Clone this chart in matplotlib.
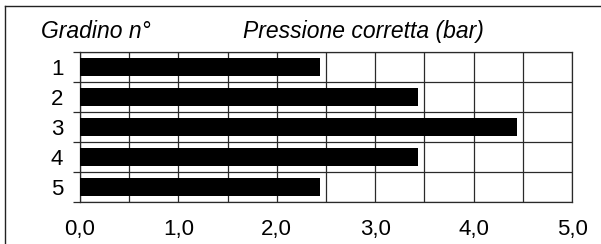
import numpy as np
import matplotlib
matplotlib.use("Agg")
import matplotlib.pyplot as plt
from matplotlib.lines import Line2D

plt.rcParams['font.family'] = ['Liberation Sans', 'DejaVu Sans']

# ============= data =============
steps = ["1", "2", "3", "4", "5"]
pressure = [2.44, 3.44, 4.44, 3.44, 2.44]
x_ticks = [0.0, 1.0, 2.0, 3.0, 4.0, 5.0]
x_labels = ["0,0", "1,0", "2,0", "3,0", "4,0", "5,0"]

W, H = 601, 244
fig = plt.figure(figsize=(W / 100, H / 100), dpi=100)

# plot area in pixels: x 80..572, y 52..202
ax = fig.add_axes([80 / W, (H - 202) / H, 492 / W, 150 / H])

pos = np.arange(1, len(steps) + 1)
ax.barh(pos, pressure, height=0.58, color='black', zorder=3)

ax.set_xlim(0, 5)
ax.set_ylim(5.5, 0.5)

# vertical grid every 0.5, labels only on the whole numbers
grid_x = np.arange(0, 5.01, 0.5)
grid_lab = []
for g in grid_x:
    grid_lab.append(x_labels[x_ticks.index(g)] if g in x_ticks else "")
ax.set_xticks(grid_x)
ax.set_xticklabels(grid_lab, fontsize=16)

ax.set_yticks(pos)
ax.set_yticklabels(steps, fontsize=16)
ax.set_yticks(np.arange(0.5, 5.6, 1.0), minor=True)

ax.tick_params(axis='x', which='both', length=0, pad=12)
ax.tick_params(axis='y', which='major', length=0, pad=12)
ax.tick_params(axis='y', which='minor', length=5, width=0.9, color='#2a2a2a', direction='out')

ax.grid(True, axis='x', which='major', color='#2a2a2a', linewidth=0.9, zorder=1)
ax.grid(True, axis='y', which='minor', color='#2a2a2a', linewidth=0.9, zorder=1)
ax.set_axisbelow(True)
for s in ax.spines.values():
    s.set_color('#2a2a2a')
    s.set_linewidth(0.9)

# header texts
fig.text(41 / W, 1 - 38 / H, "Gradino n°", fontsize=16.5, style='italic',
         ha='left', va='baseline')
fig.text(243 / W, 1 - 38 / H, "Pressione corretta (bar)", fontsize=16.5,
         style='italic', ha='left', va='baseline')

# outer frame (left and top only)
fig.add_artist(Line2D([5 / W, 5 / W], [0, 1 - 6 / H], transform=fig.transFigure,
                      color='#222222', linewidth=1.0))
fig.add_artist(Line2D([5 / W, 1], [1 - 6 / H, 1 - 6 / H], transform=fig.transFigure,
                      color='#222222', linewidth=1.0))

fig.savefig("out.png", dpi=100)
